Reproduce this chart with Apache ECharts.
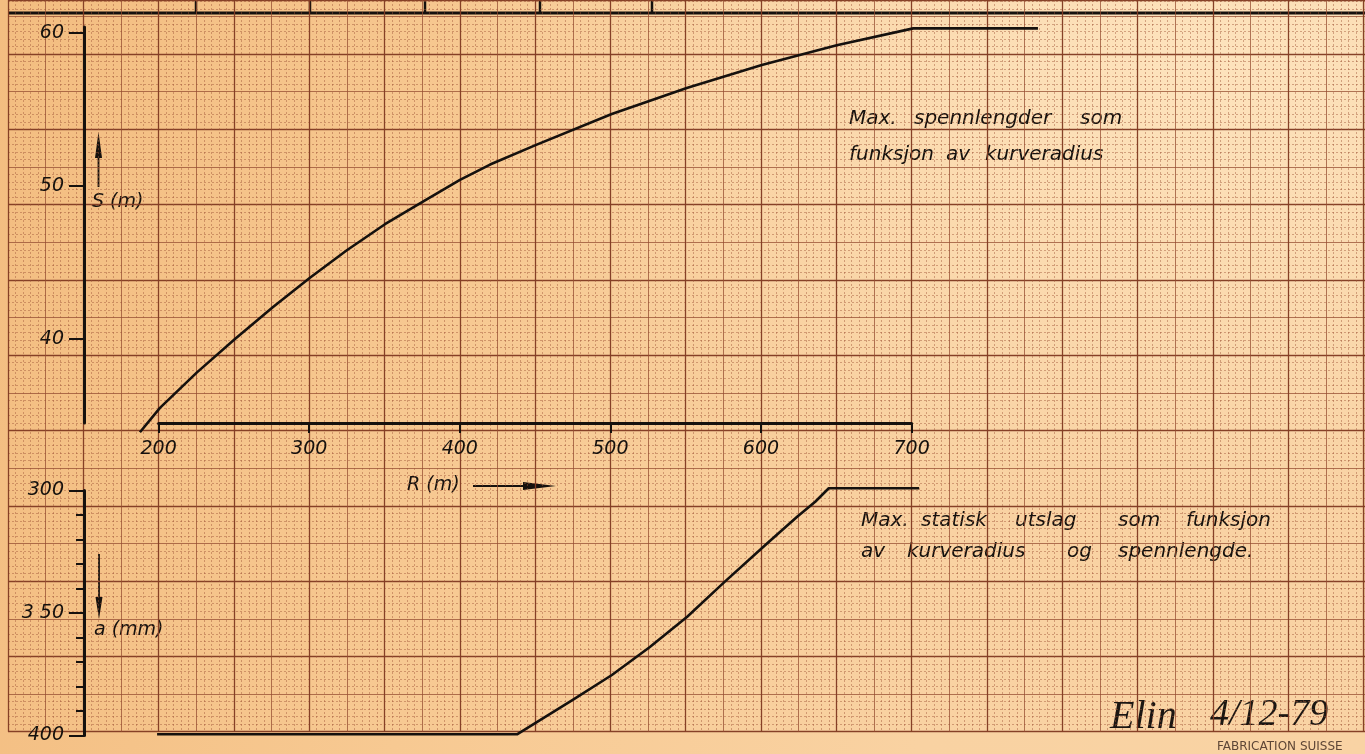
<!DOCTYPE html>
<html>
<head>
<meta charset="utf-8">
<title>Max. spennlengder som funksjon av kurveradius</title>
<script src="https://cdn.jsdelivr.net/npm/echarts@6/dist/echarts.min.js"></script>
<style>
  html, body { margin: 0; padding: 0; }
  #chart {
    width: 1365px;
    height: 754px;
    background:
      radial-gradient(ellipse at 88% 8%, rgba(255, 234, 200, 0.7), rgba(255, 234, 200, 0) 45%),
      linear-gradient(100deg, #f3bd80 0%, #f7c992 35%, #f9d2a2 70%, #f9d3a4 100%);
  }
</style>
</head>
<body>
<div id="chart"></div>
<script>
// R (m) -> S (m), upper curve
const rTop = [187.6, 200.9, 225.3, 250.7, 276.2, 300.5, 325.0, 350.3, 375.8, 400.1, 420.1, 451.1, 500.9, 550.7, 600.5, 650.3, 701.1, 783.9]
const sTop = [33.9, 35.5, 37.8, 40.0, 42.1, 44.0, 45.8, 47.5, 49.0, 50.4, 51.4, 52.7, 54.7, 56.4, 57.9, 59.2, 60.3, 60.3]

// R (m) -> a (mm), lower curve
const rBottom = [199, 438, 475, 501, 526, 551, 576, 604, 624, 636, 645, 705]
const aBottom = [399.5, 399.5, 385.5, 375.3, 364.0, 351.5, 337.2, 321.6, 310.7, 304.6, 299.1, 299.1]

// tick labels
const sTicks = [40, 50, 60]
const aLabels = { 300: '300', 350: '3 50', 400: '400' }

const ink = '#15110e'
const font = '"DejaVu Sans", sans-serif'

function paperAxis (gridIndex, max, interval, color, width, minor) {
  return {
    type: 'value',
    gridIndex: gridIndex,
    min: 0,
    max: max,
    interval: interval,
    silent: true,
    axisLine: { show: false },
    axisTick: { show: false },
    axisLabel: { show: false },
    splitLine: { show: true, lineStyle: { color: color, width: width } },
    minorTick: { show: false, splitNumber: 5 },
    minorSplitLine: {
      show: minor,
      lineStyle: { color: 'rgba(160, 85, 55, 0.45)', width: 1, type: [2, 2] }
    }
  }
}

function hiddenAxis (gridIndex, min, max, inverse) {
  return { type: 'value', gridIndex: gridIndex, min: min, max: max, inverse: !!inverse, show: false, splitLine: { show: false } }
}

function pair (arrX, arrY) {
  return arrX.map((x, i) => [x, arrY[i]])
}

function txt (x, y, text, size) {
  return {
    type: 'text',
    x: x,
    y: y,
    silent: true,
    style: {
      text: text,
      fill: ink,
      font: 'italic ' + (size || 19) + 'px ' + font,
      verticalAlign: 'middle'
    }
  }
}

function line (x1, y1, x2, y2, w) {
  return {
    type: 'line',
    silent: true,
    shape: { x1: x1, y1: y1, x2: x2, y2: y2 },
    style: { stroke: ink, lineWidth: w || 2 }
  }
}

function head (points) {
  return { type: 'polygon', silent: true, shape: { points: points }, style: { fill: ink } }
}

const chart = echarts.init(document.getElementById('chart'), null, { renderer: 'canvas' })

const paperW = 1357 / 7.53
const paperH = 731.7 / 7.53

const axisFont = { color: ink, fontSize: 19, fontStyle: 'italic', fontFamily: font }

const option = {
  animation: false,
  grid: [
    { left: 8, right: 0, top: 0, bottom: 22.3 },
    { left: 8, right: 0, top: 0, bottom: 22.3 },
    // visible axes
    { left: 158.6, right: 453.4, top: 27, bottom: 331 },
    { left: 158.6, right: 453.4, top: 490.5, bottom: 18.5 },
    // same scales, wider extent, for the curves
    { left: 128.48, right: 302.8, top: 17.67, bottom: 307.93 },
    { left: 128.48, right: 302.8, top: 478.25, bottom: 6.25 }
  ],
  xAxis: [
    paperAxis(0, paperW, 5, 'rgba(150, 78, 50, 0.75)', 1, true),
    paperAxis(1, paperW, 10, 'rgba(130, 60, 35, 0.9)', 1.3, false),
    {
      type: 'value',
      gridIndex: 2,
      min: 200,
      max: 700,
      interval: 100,
      axisLine: { lineStyle: { color: ink, width: 3 } },
      axisTick: { length: 10, lineStyle: { color: ink, width: 2 } },
      axisLabel: Object.assign({ margin: 17 }, axisFont),
      splitLine: { show: false }
    },
    hiddenAxis(3, 200, 700),
    hiddenAxis(4, 180, 800),
    hiddenAxis(5, 180, 800)
  ],
  yAxis: [
    paperAxis(0, paperH, 5, 'rgba(150, 78, 50, 0.75)', 1, true),
    paperAxis(1, paperH, 10, 'rgba(130, 60, 35, 0.9)', 1.3, false),
    {
      type: 'value',
      gridIndex: 2,
      min: 34.51,
      max: 60.39,
      offset: 74.6,
      axisLine: { lineStyle: { color: ink, width: 3 } },
      axisTick: { customValues: sTicks, length: 15, lineStyle: { color: ink, width: 2 } },
      axisLabel: Object.assign({ customValues: sTicks, margin: 20 }, axisFont),
      splitLine: { show: false }
    },
    {
      type: 'value',
      gridIndex: 3,
      min: 300,
      max: 400,
      interval: 50,
      inverse: true,
      offset: 74.6,
      axisLine: { lineStyle: { color: ink, width: 3 } },
      axisTick: { length: 15, lineStyle: { color: ink, width: 2 } },
      minorTick: { show: true, splitNumber: 5, length: 8, lineStyle: { color: ink, width: 2 } },
      axisLabel: Object.assign({ margin: 20, formatter: v => aLabels[v] || '' }, axisFont),
      splitLine: { show: false }
    },
    hiddenAxis(4, 33, 61),
    hiddenAxis(5, 295, 405, true)
  ],
  series: [
    {
      type: 'line',
      xAxisIndex: 4,
      yAxisIndex: 4,
      data: pair(rTop, sTop),
      showSymbol: false,
      symbol: 'none',
      lineStyle: { color: ink, width: 2.6, join: 'round' }
    },
    {
      type: 'line',
      xAxisIndex: 5,
      yAxisIndex: 5,
      data: pair(rBottom, aBottom),
      showSymbol: false,
      symbol: 'none',
      lineStyle: { color: ink, width: 2.6, join: 'round' }
    }
  ],
  graphic: [
    // border along the top of the sheet
    line(8, 13, 1365, 13, 3),
    line(196, 0, 196, 13, 2.5),
    line(310, 0, 310, 13, 2.5),
    line(425, 0, 425, 13, 2.5),
    line(540, 0, 540, 13, 2.5),
    line(652, 0, 652, 13, 2.5),
    // axis names with arrows
    line(98.5, 187, 98.5, 152, 1.8),
    head([[98.5, 132], [95, 158], [102, 158]]),
    txt(92, 202, 'S (m)'),
    line(473, 486, 525, 486, 1.8),
    head([[556, 486], [523, 482], [523, 490]]),
    txt(407, 485, 'R (m)'),
    line(99, 554, 99, 600, 1.8),
    head([[99, 619], [95.5, 597], [102.5, 597]]),
    txt(94, 630, 'a (mm)'),
    // notes, word by word as lettered
    txt(849, 119, 'Max.', 20),
    txt(914, 119, 'spennlengder', 20),
    txt(1080, 119, 'som', 20),
    txt(849, 155, 'funksjon', 20),
    txt(946, 155, 'av', 20),
    txt(985, 155, 'kurveradius', 20),
    txt(861, 521, 'Max.', 20),
    txt(921, 521, 'statisk', 20),
    txt(1015, 521, 'utslag', 20),
    txt(1118, 521, 'som', 20),
    txt(1186, 521, 'funksjon', 20),
    txt(861, 552, 'av', 20),
    txt(907, 552, 'kurveradius', 20),
    txt(1067, 552, 'og', 20),
    txt(1118, 552, 'spennlengde.', 20),
    // signature
    {
      type: 'text', x: 1110, y: 717, silent: true,
      style: { text: 'Elin', fill: '#1b1612', font: 'italic 40px "Liberation Serif", serif', verticalAlign: 'middle' }
    },
    {
      type: 'text', x: 1210, y: 715, silent: true,
      style: { text: '4/12-79', fill: '#1b1612', font: 'italic 38px "Liberation Serif", serif', verticalAlign: 'middle' }
    },
    {
      type: 'text', x: 1217, y: 747, silent: true,
      style: { text: 'FABRICATION SUISSE', fill: '#5e4636', font: '12px ' + font, verticalAlign: 'middle' }
    }
  ]
}

chart.setOption(option)
window.addEventListener('resize', () => chart.resize())
</script>
</body>
</html>
